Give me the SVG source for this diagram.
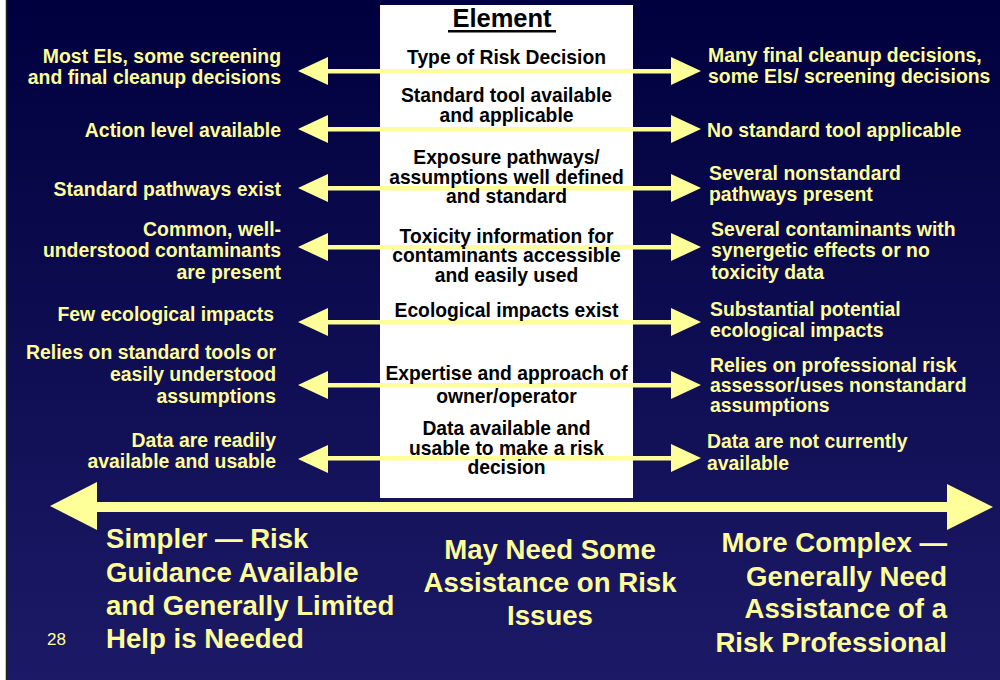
<svg xmlns="http://www.w3.org/2000/svg" width="1000" height="680" viewBox="0 0 1000 680">
<defs>
<linearGradient id="bg" x1="0" y1="0" x2="0" y2="1">
<stop offset="0" stop-color="#00003e"/>
<stop offset="1" stop-color="#1c1a66"/>
</linearGradient>
<style>
.y{font-family:"Liberation Sans",Arial,sans-serif;font-weight:bold;font-size:19.4px;fill:#FFFF99}
.l{text-anchor:end}
.b{font-family:"Liberation Sans",Arial,sans-serif;font-weight:bold;font-size:19.3px;fill:#000;text-anchor:middle}
.big{font-family:"Liberation Sans",Arial,sans-serif;font-weight:bold;font-size:27.6px;fill:#FFFF99}
.arr{fill:#FFFF99}
</style>
</defs>
<rect x="0" y="0" width="1000" height="680" fill="url(#bg)"/>
<rect x="0" y="0" width="6" height="680" fill="#fff"/>
<line x1="6.5" y1="0" x2="6.5" y2="680" stroke="#222" stroke-width="1.5"/>

<g id="element-box">
<rect x="380" y="5" width="253" height="493" fill="#fff"/>
<text x="502" y="27" class="b" style="font-size:25.5px">Element</text>
<rect x="448" y="30" width="108" height="2.5" fill="#000"/>
</g>

<g id="connectors">
<g class="arr">
<rect x="326" y="69" width="348" height="4.5"/><polygon points="298,71 328,57 328,85"/><polygon points="701,71 671,57 671,85"/>
<rect x="326" y="127" width="348" height="4.5"/><polygon points="298,129 328,115 328,143"/><polygon points="701,129 671,115 671,143"/>
<rect x="326" y="186" width="348" height="4.5"/><polygon points="298,188 328,174 328,202"/><polygon points="701,188 671,174 671,202"/>
<rect x="326" y="245" width="348" height="4.5"/><polygon points="298,247 328,233 328,261"/><polygon points="701,247 671,233 671,261"/>
<rect x="326" y="320" width="348" height="4.5"/><polygon points="298,322 328,308 328,336"/><polygon points="701,322 671,308 671,336"/>
<rect x="326" y="383" width="348" height="4.5"/><polygon points="298,385 328,371 328,399"/><polygon points="701,385 671,371 671,399"/>
<rect x="326" y="456" width="348" height="4.5"/><polygon points="298,459 328,445 328,473"/><polygon points="701,458 671,444 671,472"/>
<rect x="95" y="502" width="854" height="10"/><polygon points="50,506 97,482 97,530"/><polygon points="993,507 947,484 947,530"/>
</g>
</g>

<g id="row1">
<text class="y l" x="281" y="63">Most EIs, some screening</text>
<text class="y l" x="281" y="84">and final cleanup decisions</text>
<text class="b" x="506.5" y="64">Type of Risk Decision</text>
<text class="y" x="708" y="62">Many final cleanup decisions,</text>
<text class="y" x="708" y="83">some EIs/ screening decisions</text>
</g>
<g id="row2">
<text class="y l" x="281" y="137">Action level available</text>
<text class="b" x="506.5" y="102">Standard tool available</text>
<text class="b" x="506.5" y="122">and applicable</text>
<text class="y" x="707" y="137">No standard tool applicable</text>
</g>
<g id="row3">
<text class="y l" x="281" y="196">Standard pathways exist</text>
<text class="b" x="506.5" y="164">Exposure pathways/</text>
<text class="b" x="506.5" y="184">assumptions well defined</text>
<text class="b" x="506.5" y="203">and standard</text>
<text class="y" x="709" y="180">Several nonstandard</text>
<text class="y" x="709" y="201">pathways present</text>
</g>
<g id="row4">
<text class="y l" x="281" y="236">Common, well-</text>
<text class="y l" x="281" y="257">understood contaminants</text>
<text class="y l" x="281" y="279">are present</text>
<text class="b" x="506.5" y="243">Toxicity information for</text>
<text class="b" x="506.5" y="262">contaminants accessible</text>
<text class="b" x="506.5" y="282">and easily used</text>
<text class="y" x="711" y="236">Several contaminants with</text>
<text class="y" x="711" y="257">synergetic effects or no</text>
<text class="y" x="711" y="279">toxicity data</text>
</g>
<g id="row5">
<text class="y l" x="274" y="321">Few ecological impacts</text>
<text class="b" x="506.5" y="317">Ecological impacts exist</text>
<text class="y" x="710" y="316">Substantial potential</text>
<text class="y" x="710" y="337">ecological impacts</text>
</g>
<g id="row6">
<text class="y l" x="276" y="359">Relies on standard tools or</text>
<text class="y l" x="276" y="381">easily understood</text>
<text class="y l" x="276" y="403">assumptions</text>
<text class="b" x="506.5" y="380">Expertise and approach of</text>
<text class="b" x="506.5" y="403">owner/operator</text>
<text class="y" x="710" y="372">Relies on professional risk</text>
<text class="y" x="710" y="392">assessor/uses nonstandard</text>
<text class="y" x="710" y="412">assumptions</text>
</g>
<g id="row7">
<text class="y l" x="276" y="447">Data are readily</text>
<text class="y l" x="276" y="468">available and usable</text>
<text class="b" x="506.5" y="435">Data available and</text>
<text class="b" x="506.5" y="455">usable to make a risk</text>
<text class="b" x="506.5" y="474">decision</text>
<text class="y" x="707" y="448">Data are not currently</text>
<text class="y" x="707" y="470">available</text>
</g>

<g id="scale-simpler">
<text class="big" x="106" y="548">Simpler — Risk</text>
<text class="big" x="106" y="582">Guidance Available</text>
<text class="big" x="106" y="615">and Generally Limited</text>
<text class="big" x="106" y="648">Help is Needed</text>
</g>
<g id="scale-middle">
<text class="big" x="550" y="559" text-anchor="middle">May Need Some</text>
<text class="big" x="550" y="592" text-anchor="middle">Assistance on Risk</text>
<text class="big" x="550" y="625" text-anchor="middle">Issues</text>
</g>
<g id="scale-complex">
<text class="big" x="947" y="552" text-anchor="end">More Complex —</text>
<text class="big" x="947" y="586" text-anchor="end">Generally Need</text>
<text class="big" x="947" y="618" text-anchor="end">Assistance of a</text>
<text class="big" x="947" y="652" text-anchor="end">Risk Professional</text>
</g>
<text x="47" y="645" style="font-family:'Liberation Sans',Arial,sans-serif;font-size:17px;fill:#FFFF99">28</text>
</svg>
